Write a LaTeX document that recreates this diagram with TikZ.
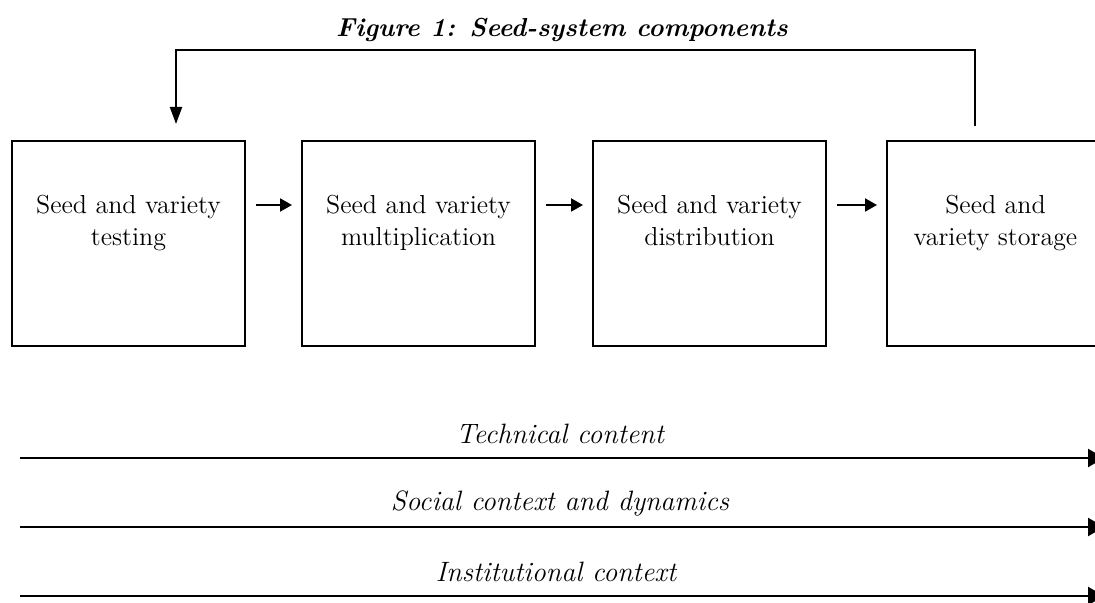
\documentclass[tikz,border=0pt]{standalone}
\usetikzlibrary{arrows.meta, positioning}

\begin{document}
\begin{tikzpicture}[x=1pt, y=1pt,
  compbox/.style={draw, rectangle, line width=1pt, inner sep=0pt, minimum width=116.5pt, minimum height=102.5pt},
  boxtext/.style={align=center, inner sep=0pt, font=\fontsize{13}{16}\selectfont},
  flow/.style={-{Triangle[length=6pt,width=6.5pt]}, line width=1pt, shorten <=5pt, shorten >=4.5pt},
  back/.style={-{Triangle[length=8.5pt,width=6pt]}, line width=1pt},
  ctxline/.style={-{Triangle[length=8pt,width=9pt]}, line width=1.2pt},
  ctxtext/.style={inner sep=0pt, font=\fontsize{14}{16}\selectfont\itshape}]
\useasboundingbox (0,0) rectangle (547.5,-301.5);

\node[font=\fontsize{13}{15}\selectfont\bfseries\itshape] (title) at (281,-15) {Figure 1: Seed-system components};

% components
\node[compbox] (b1) at (64.25,-121.75) {};
\node[compbox, right=27.5pt of b1] (b2) {};
\node[compbox, right=28pt of b2] (b3) {};
\node[compbox, right=29.5pt of b3] (b4) {};

\node[boxtext, below=27.5pt of b1.north] (t1) {Seed and variety\\testing};
\node[boxtext, below=27.5pt of b2.north] (t2) {Seed and variety\\multiplication};
\node[boxtext, below=27.5pt of b3.north] (t3) {Seed and variety\\distribution};
\node[boxtext, below=27.5pt of b4.north, xshift=-4pt] (t4) {Seed and\\variety storage};

\draw[flow] ([yshift=19.25pt]b1.east) -- ([yshift=19.25pt]b2.west);
\draw[flow] ([yshift=19.25pt]b2.east) -- ([yshift=19.25pt]b3.west);
\draw[flow] ([yshift=19.25pt]b3.east) -- ([yshift=19.25pt]b4.west);

% feedback loop
\draw[back] ([xshift=-14.25pt,yshift=7pt]b4.north) -- ++(0,38) -| ([xshift=23.75pt,yshift=8pt]b1.north);

% context lines
\node[ctxtext] (tc) at (280,-217) {Technical content};
\coordinate (tc0) at (10,-229);
\coordinate (tc1) at (552,-229);
\draw[ctxline] (tc0) -- (tc1);

\node[ctxtext] (sc) at (280,-251.5) {Social context and dynamics};
\coordinate (sc0) at (10,-263.5);
\coordinate (sc1) at (552,-263.5);
\draw[ctxline] (sc0) -- (sc1);

\node[ctxtext] (ic) at (278,-286) {Institutional context};
\coordinate (ic0) at (10,-298);
\coordinate (ic1) at (552,-298);
\draw[ctxline] (ic0) -- (ic1);
\end{tikzpicture}
\end{document}
